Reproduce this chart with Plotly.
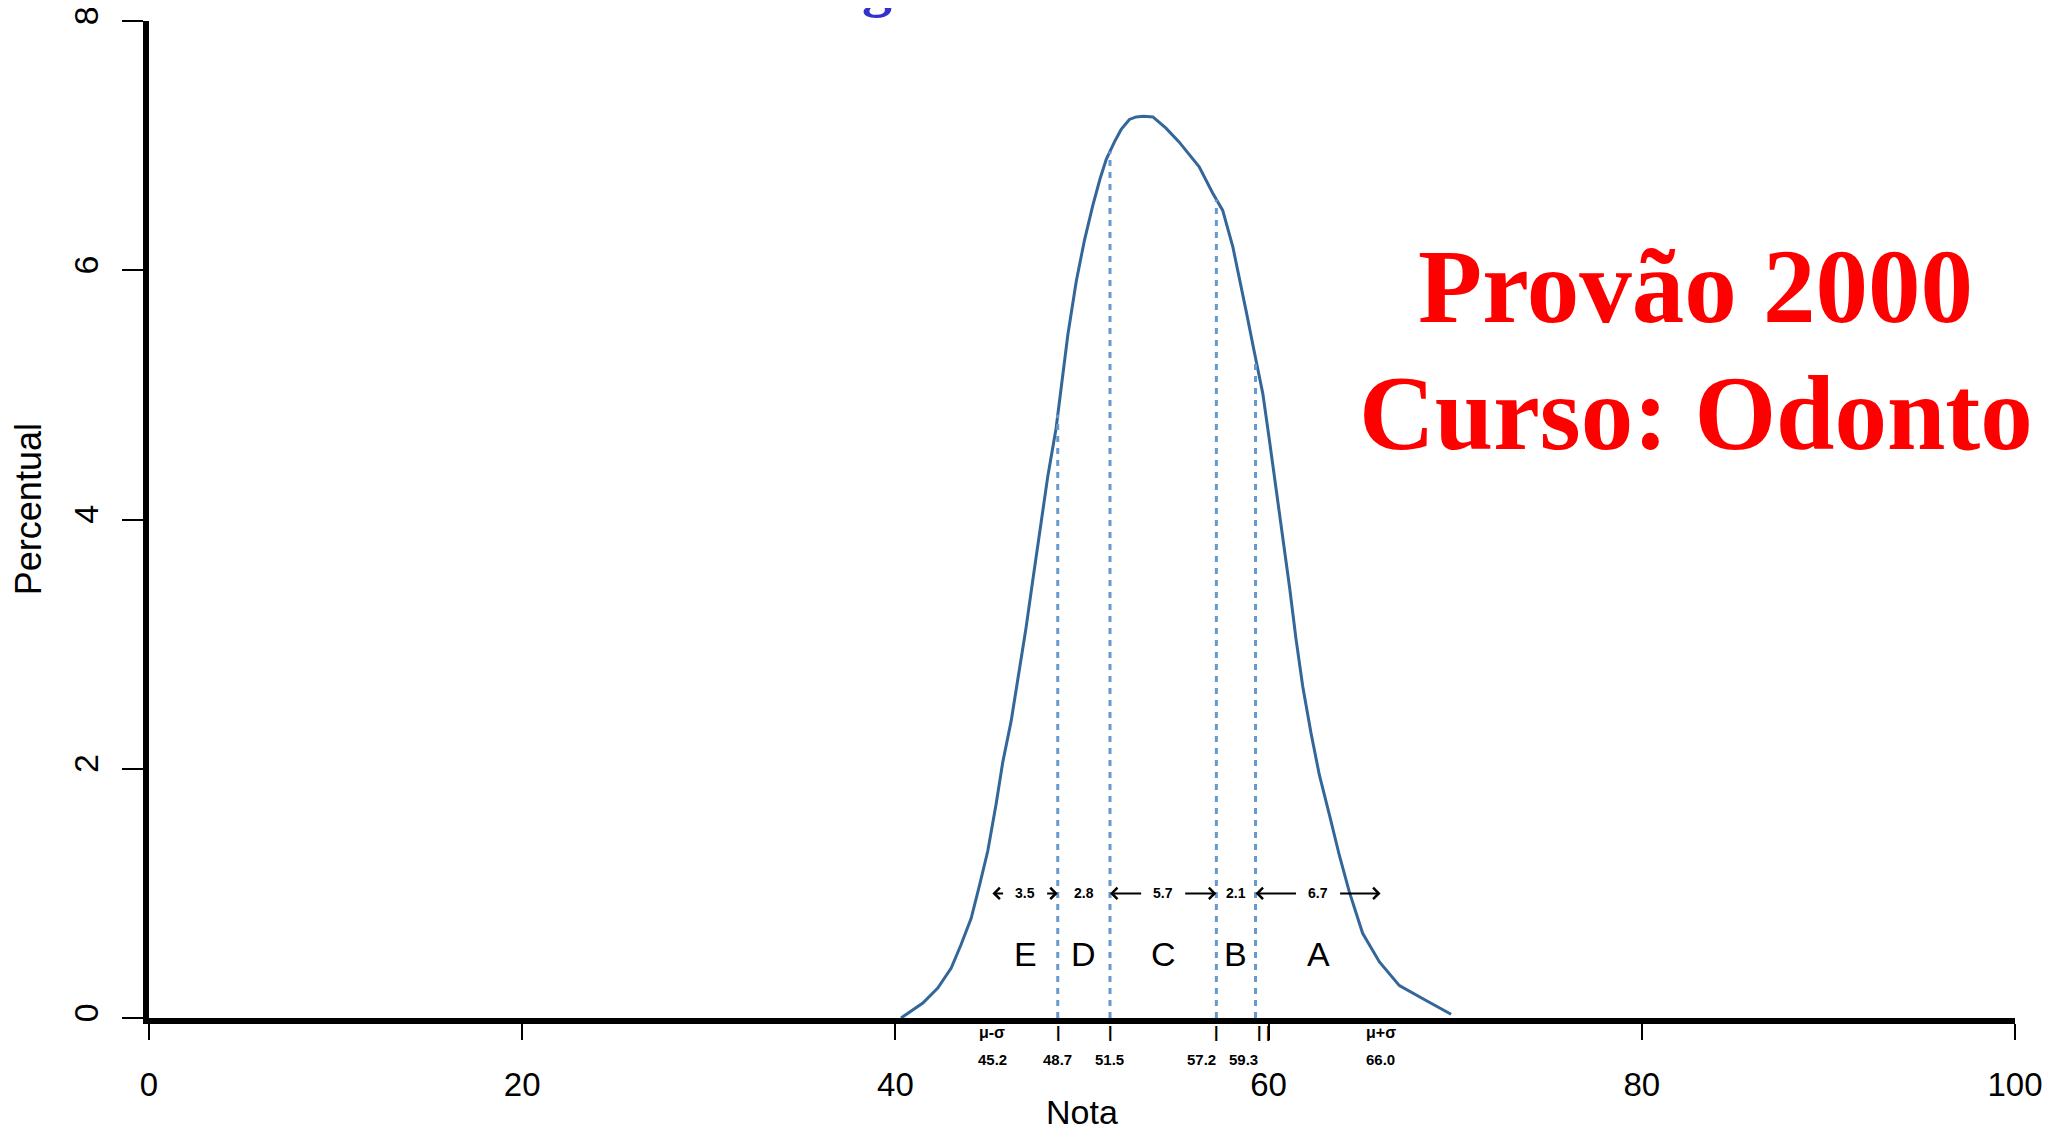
import plotly.graph_objects as go
import numpy as np

# ---- data ----
nota = [40.3, 40.58, 41.47, 42.27, 42.99, 43.52, 44.06, 44.5, 44.95, 45.4, 45.75,
        46.2, 46.56, 47.0, 47.36, 47.81, 48.17, 48.61, 48.88, 49.24, 49.69, 50.13,
        50.58, 50.96, 51.3, 51.74, 52.1, 52.54, 52.9, 53.3, 53.8, 54.5, 55.2, 56.28,
        57.0, 57.54, 58.08, 58.43, 58.8, 59.24, 59.69, 60.04, 60.4, 60.76, 61.12,
        61.47, 61.83, 62.28, 62.72, 63.26, 63.8, 64.33, 65.04, 65.94, 67.01, 68.44,
        69.78]
percentual = [0.0, 0.03, 0.12, 0.24, 0.40, 0.59, 0.80, 1.06, 1.34, 1.72, 2.05,
              2.38, 2.71, 3.13, 3.51, 3.98, 4.35, 4.73, 5.06, 5.48, 5.91, 6.24,
              6.52, 6.73, 6.89, 7.03, 7.13, 7.21, 7.23, 7.235, 7.23, 7.14, 7.03, 6.83,
              6.62, 6.48, 6.19, 5.95, 5.67, 5.34, 5.01, 4.64, 4.26, 3.84, 3.46,
              3.04, 2.66, 2.28, 1.95, 1.63, 1.30, 1.01, 0.68, 0.45, 0.26, 0.14,
              0.03]

cut_values = [45.2, 48.7, 51.5, 57.2, 59.3, 66.0]
cut_labels = ["45.2", "48.7", "51.5", "57.2", "59.3", "66.0"]
cut_marks = ["μ-σ", "|", "|", "|", "| |", "μ+σ"]
grades = ["E", "D", "C", "B", "A"]
grade_widths = ["3.5", "2.8", "5.7", "2.1", "6.7"]

x_ticks = [0, 20, 40, 60, 80, 100]
y_ticks = [0, 2, 4, 6, 8]

title_lines = ["Provão 2000", "Curso: Odonto"]

# ---- figure ----
fig = go.Figure()

fig.add_trace(go.Scatter(x=nota, y=percentual, mode="lines",
                         line=dict(color="#336699", width=3),
                         hoverinfo="skip", showlegend=False))

interior = cut_values[1:-1]
heights = np.interp(interior, nota, percentual)
for xv, hv in zip(interior, heights):
    fig.add_trace(go.Scatter(x=[xv, xv], y=[0, hv], mode="lines",
                             line=dict(color="#6699cc", width=3, dash="6px,6px"),
                             hoverinfo="skip", showlegend=False))

ann = []
arrow_y = 1.0
letter_y = 0.51
gap = 1.1
for lo, hi, g, w in zip(cut_values[:-1], cut_values[1:], grades, grade_widths):
    mid = (lo + hi) / 2
    ann.append(dict(x=mid, y=arrow_y, xref="x", yref="y", text="<b>%s</b>" % w,
                    showarrow=False, font=dict(size=14, color="black",
                                               family="Liberation Sans")))
    ann.append(dict(x=mid, y=letter_y, xref="x", yref="y", text=g,
                    showarrow=False, font=dict(size=34, color="black",
                                               family="Liberation Sans")))
    if hi - lo >= 3:
        for end, start in ((lo, mid - gap), (hi, mid + gap)):
            ann.append(dict(x=end, y=arrow_y, ax=start, ay=arrow_y, xref="x", yref="y",
                            axref="x", ayref="y", text="", showarrow=True,
                            arrowhead=4, arrowsize=1.1, arrowwidth=2,
                            arrowcolor="black", standoff=0, startstandoff=0))

label_shifts = [0, 0, 0, -15, -12, 0]
mark_shifts = [0, 0, 0, 0, 8, 0]
for xv, lab, mk, sh, msh in zip(cut_values, cut_labels, cut_marks, label_shifts,
                                mark_shifts):
    ann.append(dict(x=xv, y=-0.015, xref="x", yref="paper", text="<b>%s</b>" % mk,
                    showarrow=False, yanchor="middle", xshift=msh,
                    font=dict(size=16, color="black", family="Liberation Sans")))
    ann.append(dict(x=xv, y=-0.042, xref="x", yref="paper", text="<b>%s</b>" % lab,
                    showarrow=False, xshift=sh, yanchor="middle",
                    font=dict(size=15, color="black", family="Liberation Sans")))

# big red text
for line, ypos in zip(title_lines, [0.734, 0.606]):
    ann.append(dict(x=82.9, y=ypos, xref="x", yref="paper", text="<b>%s</b>" % line,
                    showarrow=False, xanchor="center", yanchor="middle",
                    font=dict(size=105, color="#ff0000", family="Liberation Serif")))

# clipped blue title fragment at top
ann.append(dict(x=39.0, y=1.001, xref="x", yref="paper", text="<b>g</b>",
                showarrow=False, xanchor="center", yanchor="bottom",
                font=dict(size=60, color="#3333cc", family="Liberation Serif")))

# axis titles
ann.append(dict(x=50, y=-0.094, xref="x", yref="paper", text="Nota",
                showarrow=False, xanchor="center", yanchor="middle",
                font=dict(size=34, color="black", family="Liberation Sans")))
ann.append(dict(x=-0.0645, y=0.51, xref="paper", yref="paper", text="Percentual",
                showarrow=False, textangle=-90, xanchor="center", yanchor="middle",
                font=dict(size=36, color="black", family="Liberation Sans")))

fig.update_layout(
    width=2055, height=1131,
    margin=dict(l=141, r=48, t=13, b=121, autoexpand=False),
    paper_bgcolor="white", plot_bgcolor="white",
    annotations=ann,
    showlegend=False,
    xaxis=dict(range=[0, 100], tickvals=x_ticks, ticktext=[str(v) for v in x_ticks],
               showgrid=False, zeroline=False, showline=True, linecolor="black",
               linewidth=6, ticks="outside", ticklen=16, tickwidth=2, automargin=False,
               tickcolor="black", ticklabelstandoff=16, ticklabeloverflow="allow",
               tickfont=dict(size=33, color="black", family="Liberation Sans")),
    yaxis=dict(range=[0, 8], tickvals=y_ticks, ticktext=[str(v) for v in y_ticks],
               showgrid=False, zeroline=False, showline=True, linecolor="black",
               linewidth=6, ticks="outside", ticklen=21, tickwidth=2, automargin=False,
               tickcolor="black", tickangle=-90, ticklabelstandoff=10,
               ticklabeloverflow="allow",
               tickfont=dict(size=34, color="black", family="Liberation Sans")),
)

fig.write_html("out.html")
